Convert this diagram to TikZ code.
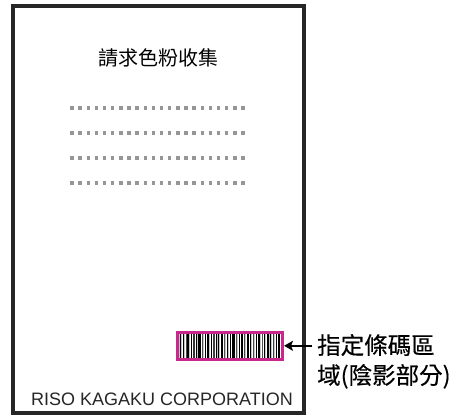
\documentclass[tikz,border=0pt]{standalone}
\usepackage{fontspec}
\setmainfont{Liberation Sans}
\newfontfamily\cjk{Noto Sans CJK TC}
\newfontfamily\cjkheavy[FakeBold=0.35]{Noto Sans CJK TC}
\usetikzlibrary{arrows.meta}
\definecolor{bcmag}{RGB}{200,40,140}
\definecolor{dotgray}{RGB}{150,150,150}
\tikzset{
  pageframe/.style={draw=black!85,line width=3.4pt},
  dotsq/.style={fill=dotgray,draw=none},
  bcbox/.style={draw=bcmag,line width=3pt,minimum width=105pt,minimum height=26.5pt,inner sep=0pt},
  pointer/.style={draw=black,line width=2pt,-{Stealth[length=9pt,width=10pt,inset=2pt]}},
  cjktext/.style={font=\cjkheavy\fontsize{23.5pt}{30pt}\selectfont,inner sep=0pt,align=left},
}
\begin{document}
\begin{tikzpicture}[x=1pt,y=-1pt]
\useasboundingbox (0,0) rectangle (456,416);
\fill[white] (0,0) rectangle (456,416);
\draw[pageframe] (13,6) rectangle (304,413);
\node[font=\cjk\fontsize{20pt}{24pt}\selectfont,inner sep=0pt,anchor=base] (title) at (158.5,65.5) {請求色粉收集};
\foreach \r in {108,133,158,183}{
  \foreach \i in {0,...,21}{
    \fill[dotsq] ({72+\i*8.14-1.7},{\r-1.7}) rectangle ++(3.4,3.4);
  }
}
% barcode
\begin{scope}
\fill[gray!45] (179,334) rectangle (281,358);
\foreach \x/\w/\c in {180/1/black,181.5/0.8/white,182.5/1.5/black,184.5/0.7/white,185.5/1/black!70,187/2/black,189.5/0.8/white,190.5/1/black,192/0.7/white,193/1.5/black!80,195/0.8/white,196/1/black,197.5/0.5/white,198/2.5/black,201/0.8/white,202/1/black!70,203.5/0.8/white,204.5/1/black,206/0.8/white,207/2/black,209.5/0.8/white,210.5/1/black,212/0.8/white,213/1.5/black!75,215/0.8/white,216/1/black,217.5/0.5/white,218/1/black,219.5/0.8/white,220.5/2/black,223/0.8/white,224/1/black!70,225.5/0.8/white,226.5/1.5/black,228.5/0.8/white,229.5/1/black,231/0.8/white,232/2.5/black,235/0.8/white,236/1/black!70,237.5/0.8/white,238.5/1/black,240/0.8/white,241/1.5/black,243/0.8/white,244/1/black!75,245.5/0.8/white,246.5/2/black,249/0.8/white,250/1/black,251.5/0.8/white,252.5/1.5/black!70,254.5/0.8/white,255.5/1/black,257/0.8/white,258/2/black,260.5/0.8/white,261.5/1/black!70,263/0.8/white,264/1/black,265.5/0.8/white,266.5/2.5/black,269.5/0.5/white,270/1/black,271.5/0.8/white,272.5/1.5/black!75,274.5/0.8/white,275.5/1/black,277/0.8/white,278/1.5/black,280/0.8/white}{
  \fill[\c] (\x,334) rectangle ++(\w,24);
}
\end{scope}
\node[bcbox] (bc) at (230,345.8) {};
\coordinate (tail) at (312,345.8);
\draw[pointer] (tail) -- (bc.east);
\node[cjktext,anchor=base west] (lbl) at (317,384) {指定條碼區\\域(陰影部分)};
\node[font=\fontsize{18pt}{20pt}\selectfont,inner sep=0pt,anchor=base west,text=black!85] (corp) at (31,405.5) {RISO KAGAKU CORPORATION};
\end{tikzpicture}
\end{document}
